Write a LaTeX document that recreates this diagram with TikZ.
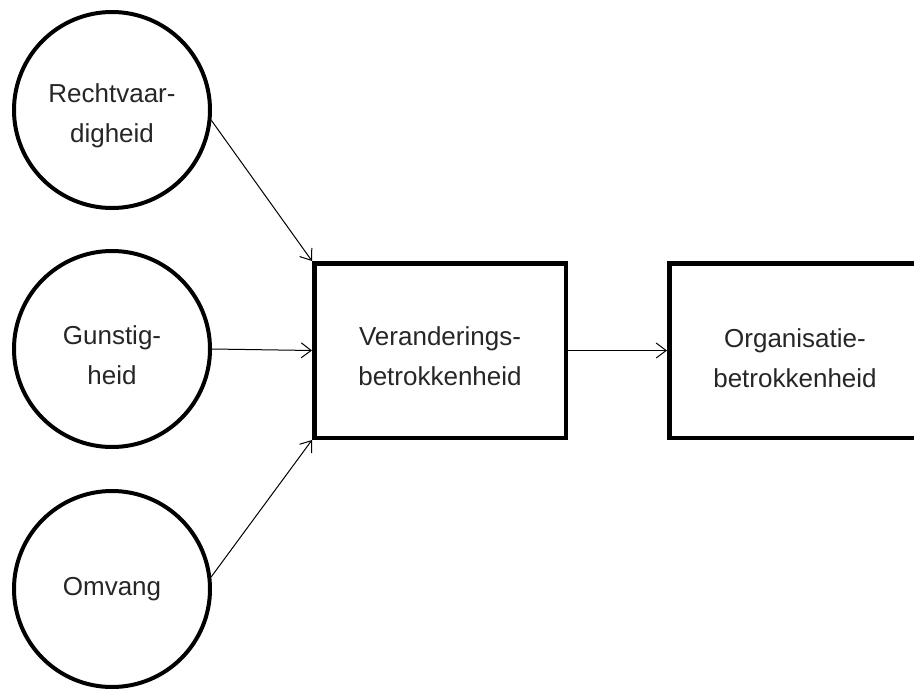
\documentclass[tikz,border=0pt]{standalone}
\usepackage{fontspec}
\setmainfont{Liberation Sans}
\usetikzlibrary{arrows.meta}
% invisible strut that lowers two-line labels slightly inside their shapes
\newcommand{\firstline}{\rule{0pt}{31pt}}
\begin{document}
\begin{tikzpicture}[x=1pt,y=-1pt,
  labeltext/.style={align=center,font=\fontsize{26}{40}\selectfont,text=black!85},
  factor/.style={circle,draw,line width=4pt,minimum size=196pt,inner sep=0pt,labeltext},
  construct/.style={rectangle,draw,line width=4.5pt,minimum width=251.5pt,minimum height=174.5pt,inner sep=0pt,labeltext},
  link/.style={line width=1pt,-{Straight Barb[length=10pt,width=15pt]}}]
\useasboundingbox (0,0) rectangle (914,691);
\clip (0,0) rectangle (914,691);

% antecedents
\node[factor] (recht) at (112,110) {\firstline Rechtvaar-\\digheid};
\node[factor] (gunst) at (112,349) {\firstline Gunstig-\\heid};
\node[factor] (omvang) at (112,589) {Omvang};

% outcomes; the second box runs past the right edge
\node[construct] (verand) at (440,350.5) {\firstline Veranderings-\\betrokkenheid};
\node[construct,minimum width=270pt] (organ) at (804.25,350.5) {};
\node[labeltext] (organtext) at (795,352) {\firstline Organisatie-\\betrokkenheid};

% relations
\draw[link] (recht.-6) -- (verand.north west);
\draw[link] (gunst.east) -- (verand.west);
\draw[link] (omvang.7) -- (verand.south west);
\draw[link] (verand.east) -- (organ.west);
\end{tikzpicture}
\end{document}
